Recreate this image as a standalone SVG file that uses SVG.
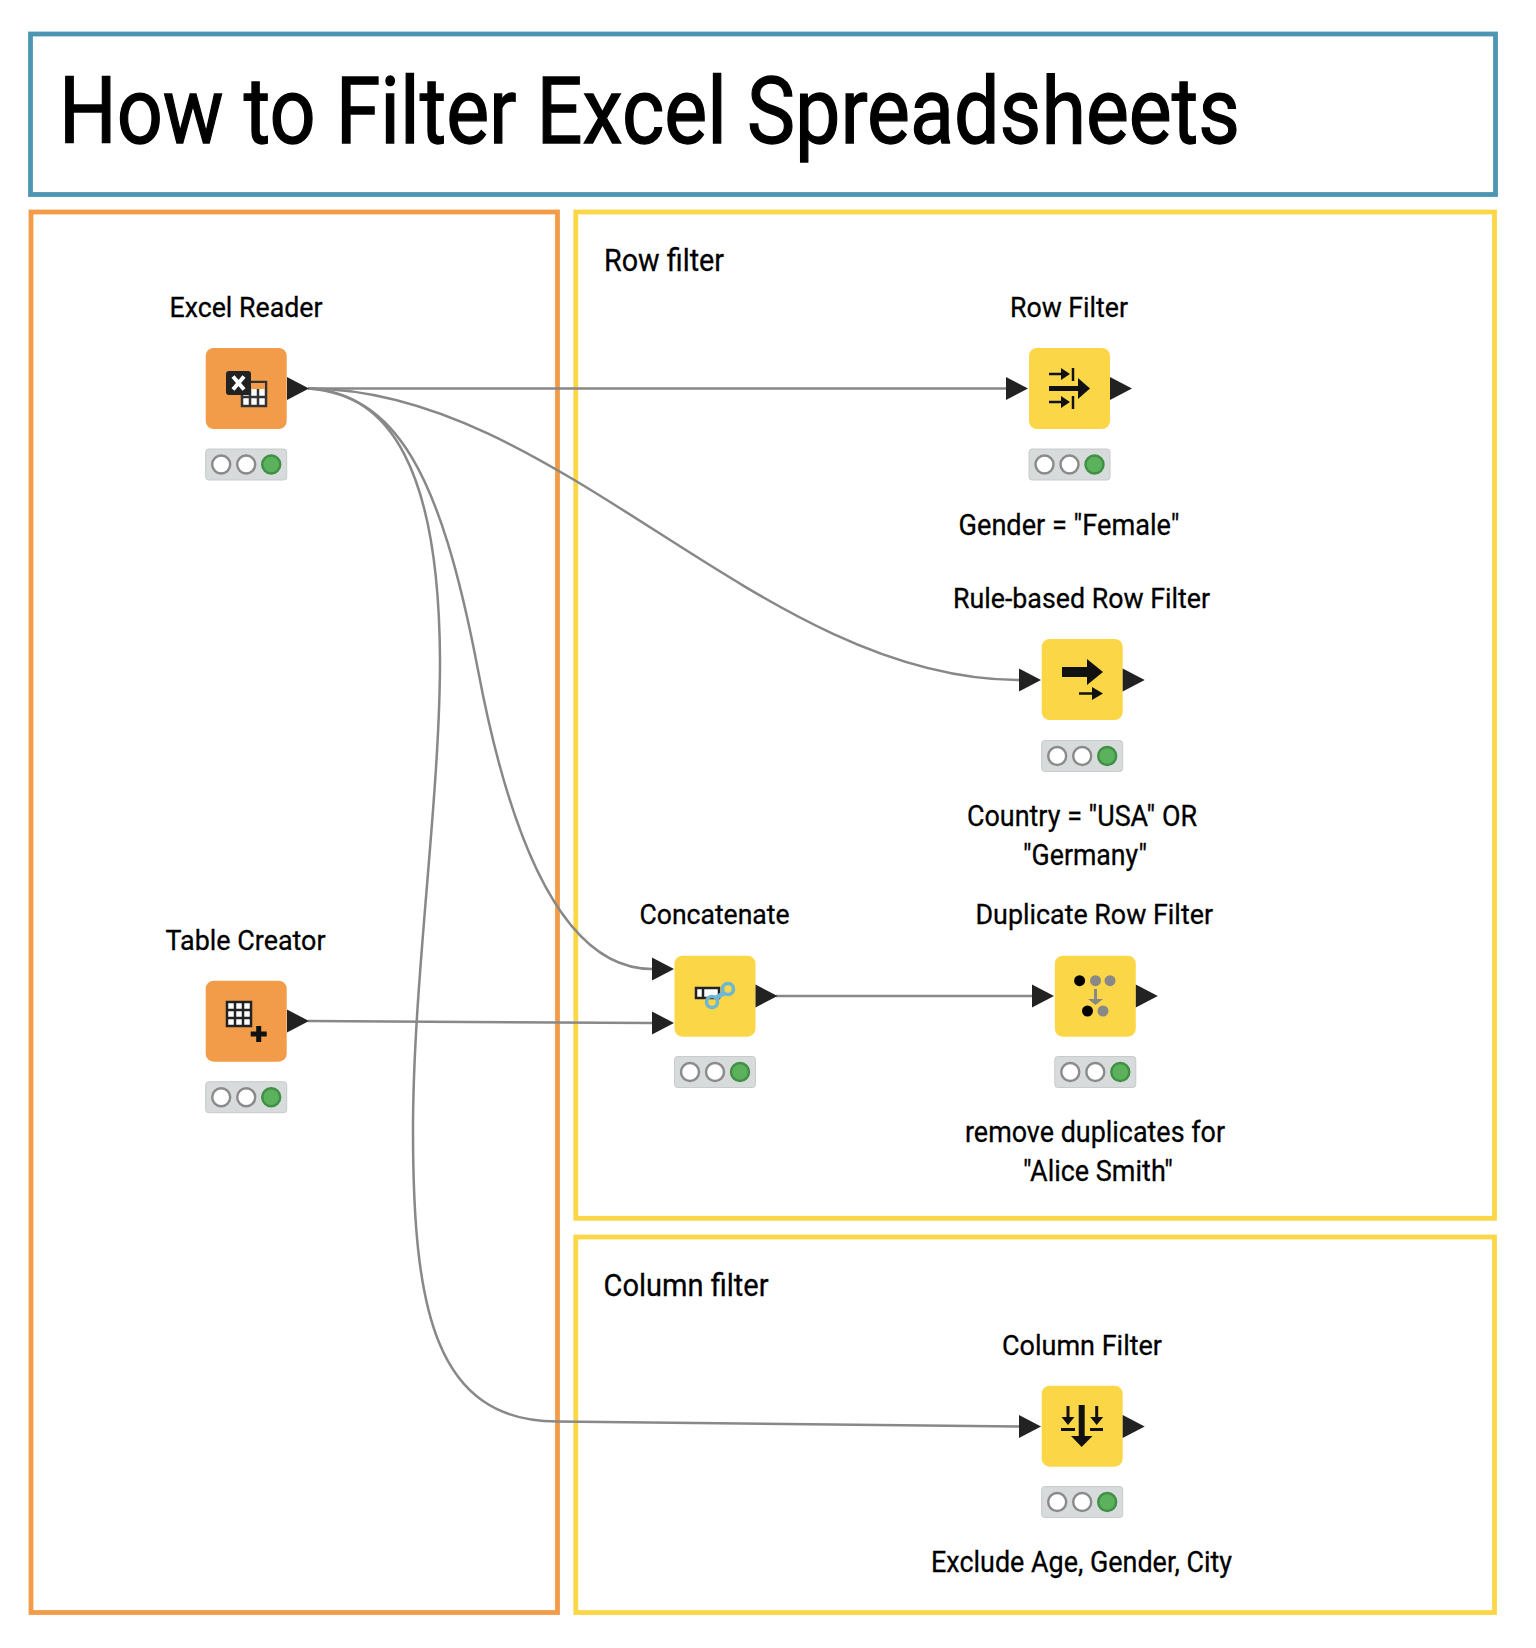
<svg xmlns="http://www.w3.org/2000/svg" width="1536" height="1648" viewBox="0 0 1536 1648">
<style>
text{font-family:Roboto,"Liberation Sans",sans-serif;fill:#000;stroke:#000;stroke-width:.3}
.title{font-size:92.5px;stroke-width:1.300}
.head{font-size:32px}
.lab{font-size:28px}
.ann{font-size:30px}
.frame{fill:none;stroke-width:4.8}
.conn{fill:none;stroke:#888;stroke-width:2.500}
.port{fill:#222}
.or{fill:#F29C4A}
.ye{fill:#FBD748}
.ic{fill:none;stroke:#111;stroke-linecap:butt}
.k{fill:#111}
</style>
<defs>
<g id="status">
<rect x="0" y="0" width="81" height="31" rx="3" fill="#D8DBDB" stroke="#C8CBCB" stroke-width="1"/>
<circle cx="15.500" cy="15.500" r="9" fill="#fff" stroke="#8a8a8a" stroke-width="2.400"/>
<circle cx="40.500" cy="15.500" r="9" fill="#fff" stroke="#8a8a8a" stroke-width="2.400"/>
<circle cx="65.500" cy="15.500" r="9" fill="#5CB25C" stroke="#3F8F45" stroke-width="2.400"/>
</g>
<path id="port" class="port" d="M0-11.500L22 0L0 11.500Z"/>
<rect id="bodyO" class="or" width="81" height="81" rx="8"/>
<rect id="bodyY" class="ye" width="81" height="81" rx="8"/>
</defs>

<rect class="frame" x="30.500" y="34" width="1465" height="160.500" stroke="#4E94B3"/>
<rect class="frame" x="31" y="212" width="526.500" height="1400.500" stroke="#F29C4A"/>
<rect class="frame" x="575.800" y="212" width="918.700" height="1006.300" stroke="#FBD748"/>
<rect class="frame" x="575.800" y="1237" width="918.700" height="375.500" stroke="#FBD748"/>

<text class="title" x="59" y="143" textLength="1181" lengthAdjust="spacingAndGlyphs">How to Filter Excel Spreadsheets</text>
<text class="head" x="604" y="271" textLength="120" lengthAdjust="spacingAndGlyphs">Row filter</text>
<text class="head" x="603.500" y="1296" textLength="165" lengthAdjust="spacingAndGlyphs">Column filter</text>

<g id="connectors">
<path class="conn" d="M308 388.500L1006 388.500"/>
<path class="conn" d="M308 388.500C560 388.500 760 680 1020 680"/>
<path class="conn" d="M308 388.500C395 395 440 470 478 670C495 760 540 969 652 969"/>
<path class="conn" d="M308 388.500C390 392 439 470 440 660C440 800 413 980 413 1130C413 1310 435 1421 557 1421.500L1020 1426.500"/>
<path class="conn" d="M308 1021L652 1023"/>
<path class="conn" d="M776 996L1032 996"/>
</g>

<g id="excel-reader">
<text class="lab" x="169.500" y="316.700" textLength="153" lengthAdjust="spacingAndGlyphs">Excel Reader</text>
<use href="#bodyO" x="205.700" y="348"/>
<use href="#port" x="287" y="388.500"/>
<use href="#status" x="205.700" y="449"/>
<rect x="242" y="382" width="24" height="24" fill="#fff" stroke="#333" stroke-width="2.500"/>
<rect x="243" y="383" width="22" height="6" fill="#F29C4A"/>
<path d="M250 389V405M258 389V405M243 397H265" stroke="#333" stroke-width="2.500" fill="none"/>
<rect x="226" y="371" width="25" height="24" rx="3" fill="#222"/>
<path d="M233 376.500L244 389.500M244 376.500L233 389.500" stroke="#fff" stroke-width="4" fill="none"/>
</g>

<g id="table-creator">
<text class="lab" x="165.500" y="950" textLength="160" lengthAdjust="spacingAndGlyphs">Table Creator</text>
<use href="#bodyO" x="205.700" y="980.700"/>
<use href="#port" x="287" y="1021"/>
<use href="#status" x="205.700" y="1081.700"/>
<rect x="227" y="1002" width="24" height="24" fill="#fff" stroke="#222" stroke-width="2.500"/>
<path d="M235 1002V1026M243 1002V1026M227 1010H251M227 1018H251" stroke="#222" stroke-width="2.500" fill="none"/>
<path d="M258.700 1026V1042M250.700 1034H266.700" stroke="#111" stroke-width="5" fill="none"/>
</g>

<g id="row-filter">
<text class="lab" x="1010" y="316.700" textLength="118" lengthAdjust="spacingAndGlyphs">Row Filter</text>
<use href="#port" x="1006" y="388.500"/>
<use href="#bodyY" x="1029" y="348"/>
<use href="#port" x="1110" y="388.500"/>
<use href="#status" x="1029" y="449"/>
<path class="ic" stroke-width="2.500" d="M1049 374H1066M1049 402H1066M1073 368V381M1073 396V409"/>
<path class="k" d="M1061 368L1070 374L1061 380ZM1061 396L1070 402L1061 408Z"/>
<path class="ic" stroke-width="5" d="M1049 388.500H1082"/>
<path class="k" d="M1078 378L1090 388.500L1078 399Z"/>
<text class="ann" x="958.500" y="535" textLength="221" lengthAdjust="spacingAndGlyphs">Gender = "Female"</text>
</g>

<g id="rule-based-row-filter">
<text class="lab" x="953" y="608" textLength="257" lengthAdjust="spacingAndGlyphs">Rule-based Row Filter</text>
<use href="#port" x="1019" y="680"/>
<use href="#bodyY" x="1041.700" y="639"/>
<use href="#port" x="1122.700" y="680"/>
<use href="#status" x="1041.700" y="740.500"/>
<path class="ic" stroke-width="10" d="M1062 672H1090"/>
<path class="k" d="M1087 659L1103 672L1087 685Z"/>
<path class="ic" stroke-width="2.500" d="M1079 693.500H1096"/>
<path class="k" d="M1092 687L1103 693.500L1092 700Z"/>
<text class="ann" x="967" y="826" textLength="230" lengthAdjust="spacingAndGlyphs">Country = "USA" OR</text>
<text class="ann" x="1023" y="865" textLength="124" lengthAdjust="spacingAndGlyphs">"Germany"</text>
</g>

<g id="concatenate">
<text class="lab" x="639.500" y="924" textLength="150" lengthAdjust="spacingAndGlyphs">Concatenate</text>
<use href="#port" x="652" y="969"/>
<use href="#port" x="652" y="1023"/>
<use href="#bodyY" x="674.500" y="955.700"/>
<use href="#port" x="755.500" y="996"/>
<use href="#status" x="674.500" y="1056.500"/>
<rect x="696" y="988" width="23" height="10" fill="#fff" stroke="#222" stroke-width="2.500"/>
<path d="M703 988V998" stroke="#222" stroke-width="2.500" fill="none"/>
<g fill="none" stroke="#6DB6D6" stroke-width="3.500">
<circle cx="728" cy="989" r="5.500"/>
<circle cx="712" cy="1002" r="5.500"/>
<path d="M716 998L724 993" stroke-width="5"/>
</g>
</g>

<g id="duplicate-row-filter">
<text class="lab" x="975.500" y="924" textLength="237.500" lengthAdjust="spacingAndGlyphs">Duplicate Row Filter</text>
<use href="#port" x="1032" y="996"/>
<use href="#bodyY" x="1054.800" y="955.700"/>
<use href="#port" x="1135.800" y="996"/>
<use href="#status" x="1054.800" y="1056.500"/>
<circle cx="1079.600" cy="980.700" r="5.500" fill="#000"/>
<circle cx="1095.500" cy="980.700" r="5.500" fill="#888"/>
<circle cx="1110" cy="980.700" r="5.500" fill="#888"/>
<path d="M1095.500 989V1000" stroke="#888" stroke-width="3" fill="none"/>
<path d="M1088 999H1103L1095.500 1005Z" fill="#888"/>
<circle cx="1087.500" cy="1011" r="5.500" fill="#000"/>
<circle cx="1103" cy="1011" r="5.500" fill="#888"/>
<text class="ann" x="965" y="1142" textLength="260" lengthAdjust="spacingAndGlyphs">remove duplicates for</text>
<text class="ann" x="1023" y="1181" textLength="150" lengthAdjust="spacingAndGlyphs">"Alice Smith"</text>
</g>

<g id="column-filter">
<text class="lab" x="1002" y="1355" textLength="160" lengthAdjust="spacingAndGlyphs">Column Filter</text>
<use href="#port" x="1019" y="1426.500"/>
<use href="#bodyY" x="1041.700" y="1385.700"/>
<use href="#port" x="1122.700" y="1426.500"/>
<use href="#status" x="1041.700" y="1486.500"/>
<path class="ic" stroke-width="6" d="M1081.700 1405V1440"/>
<path class="k" d="M1071 1436H1092.500L1081.700 1447Z"/>
<path class="ic" stroke-width="3" d="M1068 1406V1422M1096.700 1406V1422M1061 1429.500H1075M1090 1429.500H1103"/>
<path class="k" d="M1061.500 1417H1074.500L1068 1425ZM1090.200 1417H1103.200L1096.700 1425Z"/>
<text class="ann" x="931" y="1572" textLength="301" lengthAdjust="spacingAndGlyphs">Exclude Age, Gender, City</text>
</g>
</svg>
